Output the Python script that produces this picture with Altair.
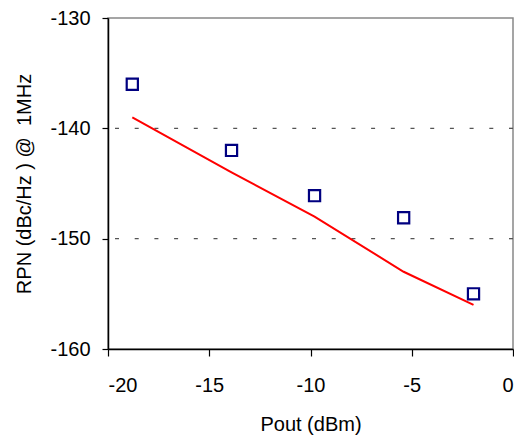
import altair as alt
import pandas as pd

# Measured points (squares)
meas_x = [-18.8, -13.9, -9.8, -5.4, -1.95]
meas_y = [-136.0, -142.0, -146.1, -148.1, -155.0]

# Simulated curve (red line)
sim_x = [-18.8, -13.9, -9.8, -5.4, -1.95]
sim_y = [-139.0, -144.0, -148.0, -153.0, -156.0]

x_ticks = [-20, -15, -10, -5, 0]
y_ticks = [-160, -150, -140, -130]
grid_y = [-140, -150]

FONT = "Liberation Sans"
FS = 20

meas = pd.DataFrame({"x": meas_x, "y": meas_y})
sim = pd.DataFrame({"x": sim_x, "y": sim_y})
grid = pd.DataFrame({"y": grid_y})

xs = alt.Scale(domain=[-20, 0], nice=False, zero=False)
ys = alt.Scale(domain=[-160, -130], nice=False, zero=False)

x_axis = alt.Axis(
    title="Pout (dBm)", values=x_ticks, labelExpr="'' + datum.value", grid=False,
    domainColor="black", domainWidth=1.5, tickColor="black", tickSize=7, tickWidth=1.2,
    labelFont=FONT, labelFontSize=FS, labelColor="black", labelPadding=19,
    titleFont=FONT, titleFontSize=FS, titleFontWeight="normal", titleColor="black",
    titlePadding=19,
)
y_axis = alt.Axis(
    title="RPN (dBc/Hz\u00a0) @\u00a0\u00a01MHz", values=y_ticks, labelExpr="'' + datum.value",
    grid=False,
    domainColor="black", domainWidth=1.5, tickColor="black", tickSize=6, tickWidth=1.2,
    labelFont=FONT, labelFontSize=FS, labelColor="black", labelPadding=12,
    titleFont=FONT, titleFontSize=FS, titleFontWeight="normal", titleColor="black",
    titlePadding=15,
)

gridlines = alt.Chart(grid).mark_rule(
    color="#555555", strokeWidth=1.3, strokeDash=[4, 15.7]
).encode(y=alt.Y("y:Q", scale=ys, axis=y_axis))

line = alt.Chart(sim).mark_line(color="#ff0000", strokeWidth=2).encode(
    x=alt.X("x:Q", scale=xs, axis=x_axis),
    y=alt.Y("y:Q", scale=ys, axis=y_axis),
)

pts = alt.Chart(meas).mark_point(
    shape="square", size=125, filled=False, color="#000080", strokeWidth=2.2, opacity=1
).encode(
    x=alt.X("x:Q", scale=xs),
    y=alt.Y("y:Q", scale=ys),
)

chart = (gridlines + line + pts).properties(
    width=405, height=331,
    autosize=alt.AutoSizeParams(type="none"),
    padding={"left": 100, "top": 10, "right": 1, "bottom": 86},
).configure_view(stroke="#888888", strokeWidth=1.5)

chart.save("out.html", embed_options={"renderer": "svg", "actions": False})
